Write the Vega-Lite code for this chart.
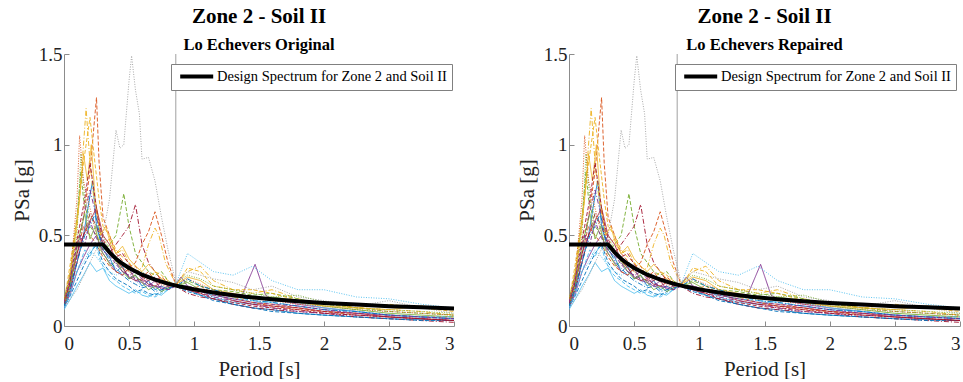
{
  "$schema": "https://vega.github.io/schema/vega-lite/v6.json",
  "padding": {"left": 11, "top": 5, "right": 0, "bottom": 0},
  "config": {
    "font": "Liberation Serif",
    "view": {"stroke": null},
    "style": {"guide-label": {"font": "Liberation Serif"}, "guide-title": {"font": "Liberation Serif"}},
    "axis": {"grid": false, "domainColor": "#8c8c8c", "tickColor": "#8c8c8c", "labelColor": "#222", "titleColor": "#222", "titleFontWeight": "normal", "labelFont": "Liberation Serif", "titleFont": "Liberation Serif", "labelFontSize": 19, "titleFontSize": 21, "tickSize": -5},
    "axisX": {"labelPadding": 13, "titlePadding": 5},
    "axisY": {"labelPadding": 7, "titlePadding": 6},
    "legend": {"labelFont": "Liberation Serif"},
    "title": {"font": "Liberation Serif", "fontSize": 21, "fontWeight": "bold", "color": "#000", "subtitleFont": "Liberation Serif", "subtitleFontSize": 16.5, "subtitleFontWeight": "bold", "subtitleColor": "#000", "subtitlePadding": 10, "anchor": "middle", "offset": -8}
  },
  "datasets": {
    "rec": [
      {"s":"A","T":0,"v":0.1},{"s":"A","T":0.05,"v":0.2},{"s":"A","T":0.1,"v":0.35},{"s":"A","T":0.15,"v":0.5},{"s":"A","T":0.2,"v":0.72},{"s":"A","T":0.22,"v":0.8},{"s":"A","T":0.25,"v":0.55},{"s":"A","T":0.3,"v":0.42},{"s":"A","T":0.35,"v":0.38},{"s":"A","T":0.4,"v":0.3},{"s":"A","T":0.45,"v":0.33},{"s":"A","T":0.5,"v":0.26},{"s":"A","T":0.55,"v":0.28},{"s":"A","T":0.6,"v":0.22},{"s":"A","T":0.65,"v":0.25},{"s":"A","T":0.7,"v":0.2},{"s":"A","T":0.75,"v":0.22},{"s":"A","T":0.8,"v":0.2},{"s":"A","T":0.86,"v":0.23},{"s":"A","T":0.95,"v":0.2},{"s":"A","T":1.05,"v":0.17},{"s":"A","T":1.15,"v":0.15},{"s":"A","T":1.3,"v":0.12},{"s":"A","T":1.45,"v":0.1},{"s":"A","T":1.6,"v":0.09},{"s":"A","T":1.8,"v":0.07},{"s":"A","T":2.0,"v":0.06},{"s":"A","T":2.25,"v":0.05},{"s":"A","T":2.5,"v":0.04},{"s":"A","T":2.75,"v":0.035},{"s":"A","T":3.0,"v":0.03},
      {"s":"B","T":0,"v":0.13},{"s":"B","T":0.05,"v":0.25},{"s":"B","T":0.1,"v":0.45},{"s":"B","T":0.15,"v":0.6},{"s":"B","T":0.2,"v":0.85},{"s":"B","T":0.23,"v":1.1},{"s":"B","T":0.25,"v":1.26},{"s":"B","T":0.27,"v":0.9},{"s":"B","T":0.3,"v":0.6},{"s":"B","T":0.35,"v":0.5},{"s":"B","T":0.4,"v":0.4},{"s":"B","T":0.45,"v":0.36},{"s":"B","T":0.5,"v":0.3},{"s":"B","T":0.55,"v":0.33},{"s":"B","T":0.6,"v":0.27},{"s":"B","T":0.65,"v":0.3},{"s":"B","T":0.7,"v":0.25},{"s":"B","T":0.75,"v":0.27},{"s":"B","T":0.8,"v":0.24},{"s":"B","T":0.86,"v":0.22},{"s":"B","T":0.95,"v":0.2},{"s":"B","T":1.05,"v":0.22},{"s":"B","T":1.15,"v":0.18},{"s":"B","T":1.3,"v":0.16},{"s":"B","T":1.45,"v":0.13},{"s":"B","T":1.6,"v":0.12},{"s":"B","T":1.8,"v":0.1},{"s":"B","T":2.0,"v":0.08},{"s":"B","T":2.25,"v":0.07},{"s":"B","T":2.5,"v":0.06},{"s":"B","T":2.75,"v":0.05},{"s":"B","T":3.0,"v":0.05},
      {"s":"C","T":0,"v":0.12},{"s":"C","T":0.05,"v":0.3},{"s":"C","T":0.1,"v":0.55},{"s":"C","T":0.13,"v":0.8},{"s":"C","T":0.17,"v":1.2},{"s":"C","T":0.2,"v":0.9},{"s":"C","T":0.23,"v":0.7},{"s":"C","T":0.27,"v":0.55},{"s":"C","T":0.3,"v":0.45},{"s":"C","T":0.35,"v":0.48},{"s":"C","T":0.4,"v":0.4},{"s":"C","T":0.45,"v":0.42},{"s":"C","T":0.5,"v":0.35},{"s":"C","T":0.55,"v":0.3},{"s":"C","T":0.6,"v":0.32},{"s":"C","T":0.65,"v":0.45},{"s":"C","T":0.7,"v":0.54},{"s":"C","T":0.73,"v":0.5},{"s":"C","T":0.78,"v":0.35},{"s":"C","T":0.86,"v":0.23},{"s":"C","T":0.95,"v":0.3},{"s":"C","T":1.05,"v":0.33},{"s":"C","T":1.15,"v":0.25},{"s":"C","T":1.3,"v":0.2},{"s":"C","T":1.45,"v":0.18},{"s":"C","T":1.6,"v":0.2},{"s":"C","T":1.8,"v":0.15},{"s":"C","T":2.0,"v":0.12},{"s":"C","T":2.25,"v":0.1},{"s":"C","T":2.5,"v":0.09},{"s":"C","T":2.75,"v":0.08},{"s":"C","T":3.0,"v":0.06},
      {"s":"D","T":0,"v":0.1},{"s":"D","T":0.05,"v":0.18},{"s":"D","T":0.1,"v":0.3},{"s":"D","T":0.15,"v":0.38},{"s":"D","T":0.2,"v":0.45},{"s":"D","T":0.25,"v":0.5},{"s":"D","T":0.3,"v":0.4},{"s":"D","T":0.35,"v":0.35},{"s":"D","T":0.4,"v":0.3},{"s":"D","T":0.45,"v":0.28},{"s":"D","T":0.5,"v":0.32},{"s":"D","T":0.55,"v":0.25},{"s":"D","T":0.6,"v":0.24},{"s":"D","T":0.65,"v":0.22},{"s":"D","T":0.7,"v":0.25},{"s":"D","T":0.75,"v":0.2},{"s":"D","T":0.8,"v":0.22},{"s":"D","T":0.86,"v":0.23},{"s":"D","T":0.9,"v":0.27},{"s":"D","T":0.95,"v":0.22},{"s":"D","T":1.05,"v":0.2},{"s":"D","T":1.15,"v":0.18},{"s":"D","T":1.3,"v":0.16},{"s":"D","T":1.37,"v":0.17},{"s":"D","T":1.47,"v":0.34},{"s":"D","T":1.55,"v":0.17},{"s":"D","T":1.6,"v":0.15},{"s":"D","T":1.8,"v":0.12},{"s":"D","T":2.0,"v":0.1},{"s":"D","T":2.25,"v":0.08},{"s":"D","T":2.5,"v":0.06},{"s":"D","T":2.75,"v":0.05},{"s":"D","T":3.0,"v":0.04},
      {"s":"E","T":0,"v":0.14},{"s":"E","T":0.05,"v":0.3},{"s":"E","T":0.1,"v":0.6},{"s":"E","T":0.13,"v":0.85},{"s":"E","T":0.15,"v":0.7},{"s":"E","T":0.2,"v":0.55},{"s":"E","T":0.25,"v":0.5},{"s":"E","T":0.3,"v":0.42},{"s":"E","T":0.35,"v":0.45},{"s":"E","T":0.4,"v":0.5},{"s":"E","T":0.46,"v":0.73},{"s":"E","T":0.5,"v":0.55},{"s":"E","T":0.55,"v":0.4},{"s":"E","T":0.6,"v":0.35},{"s":"E","T":0.65,"v":0.3},{"s":"E","T":0.7,"v":0.28},{"s":"E","T":0.75,"v":0.3},{"s":"E","T":0.8,"v":0.25},{"s":"E","T":0.86,"v":0.22},{"s":"E","T":0.95,"v":0.25},{"s":"E","T":1.05,"v":0.22},{"s":"E","T":1.15,"v":0.2},{"s":"E","T":1.3,"v":0.19},{"s":"E","T":1.45,"v":0.17},{"s":"E","T":1.6,"v":0.18},{"s":"E","T":1.8,"v":0.15},{"s":"E","T":2.0,"v":0.12},{"s":"E","T":2.25,"v":0.1},{"s":"E","T":2.5,"v":0.08},{"s":"E","T":2.75,"v":0.07},{"s":"E","T":3.0,"v":0.06},
      {"s":"F","T":0,"v":0.09},{"s":"F","T":0.05,"v":0.15},{"s":"F","T":0.1,"v":0.22},{"s":"F","T":0.15,"v":0.28},{"s":"F","T":0.2,"v":0.35},{"s":"F","T":0.25,"v":0.3},{"s":"F","T":0.3,"v":0.32},{"s":"F","T":0.35,"v":0.25},{"s":"F","T":0.4,"v":0.22},{"s":"F","T":0.45,"v":0.2},{"s":"F","T":0.5,"v":0.18},{"s":"F","T":0.55,"v":0.2},{"s":"F","T":0.6,"v":0.17},{"s":"F","T":0.65,"v":0.16},{"s":"F","T":0.7,"v":0.18},{"s":"F","T":0.75,"v":0.17},{"s":"F","T":0.8,"v":0.2},{"s":"F","T":0.86,"v":0.23},{"s":"F","T":0.95,"v":0.22},{"s":"F","T":1.05,"v":0.2},{"s":"F","T":1.15,"v":0.16},{"s":"F","T":1.3,"v":0.13},{"s":"F","T":1.45,"v":0.12},{"s":"F","T":1.6,"v":0.14},{"s":"F","T":1.8,"v":0.13},{"s":"F","T":2.0,"v":0.1},{"s":"F","T":2.25,"v":0.08},{"s":"F","T":2.5,"v":0.06},{"s":"F","T":2.75,"v":0.05},{"s":"F","T":3.0,"v":0.04},
      {"s":"G","T":0,"v":0.12},{"s":"G","T":0.05,"v":0.2},{"s":"G","T":0.1,"v":0.35},{"s":"G","T":0.15,"v":0.5},{"s":"G","T":0.2,"v":0.62},{"s":"G","T":0.25,"v":0.55},{"s":"G","T":0.3,"v":0.45},{"s":"G","T":0.35,"v":0.4},{"s":"G","T":0.4,"v":0.45},{"s":"G","T":0.45,"v":0.5},{"s":"G","T":0.5,"v":0.55},{"s":"G","T":0.55,"v":0.67},{"s":"G","T":0.6,"v":0.45},{"s":"G","T":0.65,"v":0.35},{"s":"G","T":0.7,"v":0.3},{"s":"G","T":0.75,"v":0.25},{"s":"G","T":0.8,"v":0.24},{"s":"G","T":0.86,"v":0.22},{"s":"G","T":0.95,"v":0.18},{"s":"G","T":1.05,"v":0.16},{"s":"G","T":1.15,"v":0.15},{"s":"G","T":1.3,"v":0.12},{"s":"G","T":1.45,"v":0.1},{"s":"G","T":1.6,"v":0.09},{"s":"G","T":1.8,"v":0.08},{"s":"G","T":2.0,"v":0.07},{"s":"G","T":2.25,"v":0.05},{"s":"G","T":2.5,"v":0.04},{"s":"G","T":2.75,"v":0.03},{"s":"G","T":3.0,"v":0.02},
      {"s":"H","T":0,"v":0.11},{"s":"H","T":0.05,"v":0.22},{"s":"H","T":0.1,"v":0.4},{"s":"H","T":0.15,"v":0.55},{"s":"H","T":0.2,"v":0.5},{"s":"H","T":0.25,"v":0.45},{"s":"H","T":0.3,"v":0.38},{"s":"H","T":0.35,"v":0.33},{"s":"H","T":0.4,"v":0.3},{"s":"H","T":0.45,"v":0.28},{"s":"H","T":0.5,"v":0.32},{"s":"H","T":0.55,"v":0.35},{"s":"H","T":0.6,"v":0.45},{"s":"H","T":0.65,"v":0.52},{"s":"H","T":0.7,"v":0.63},{"s":"H","T":0.75,"v":0.5},{"s":"H","T":0.8,"v":0.35},{"s":"H","T":0.86,"v":0.23},{"s":"H","T":0.95,"v":0.2},{"s":"H","T":1.05,"v":0.18},{"s":"H","T":1.15,"v":0.17},{"s":"H","T":1.3,"v":0.15},{"s":"H","T":1.45,"v":0.13},{"s":"H","T":1.6,"v":0.11},{"s":"H","T":1.8,"v":0.09},{"s":"H","T":2.0,"v":0.08},{"s":"H","T":2.25,"v":0.06},{"s":"H","T":2.5,"v":0.05},{"s":"H","T":2.75,"v":0.04},{"s":"H","T":3.0,"v":0.03},
      {"s":"I","T":0,"v":0.1},{"s":"I","T":0.1,"v":0.2},{"s":"I","T":0.2,"v":0.35},{"s":"I","T":0.3,"v":0.5},{"s":"I","T":0.35,"v":0.7},{"s":"I","T":0.4,"v":1.08},{"s":"I","T":0.43,"v":0.98},{"s":"I","T":0.46,"v":1.0},{"s":"I","T":0.5,"v":1.35},{"s":"I","T":0.52,"v":1.49},{"s":"I","T":0.55,"v":1.3},{"s":"I","T":0.58,"v":1.17},{"s":"I","T":0.6,"v":0.92},{"s":"I","T":0.65,"v":0.93},{"s":"I","T":0.7,"v":0.8},{"s":"I","T":0.75,"v":0.6},{"s":"I","T":0.8,"v":0.42},{"s":"I","T":0.86,"v":0.24},{"s":"I","T":0.95,"v":0.3},{"s":"I","T":1.05,"v":0.28},{"s":"I","T":1.15,"v":0.26},{"s":"I","T":1.3,"v":0.24},{"s":"I","T":1.45,"v":0.2},{"s":"I","T":1.6,"v":0.22},{"s":"I","T":1.8,"v":0.16},{"s":"I","T":2.0,"v":0.14},{"s":"I","T":2.25,"v":0.11},{"s":"I","T":2.5,"v":0.14},{"s":"I","T":2.75,"v":0.1},{"s":"I","T":3.0,"v":0.07},
      {"s":"J","T":0,"v":0.13},{"s":"J","T":0.05,"v":0.35},{"s":"J","T":0.1,"v":0.6},{"s":"J","T":0.15,"v":0.9},{"s":"J","T":0.2,"v":1.15},{"s":"J","T":0.23,"v":0.95},{"s":"J","T":0.27,"v":0.7},{"s":"J","T":0.3,"v":0.55},{"s":"J","T":0.35,"v":0.5},{"s":"J","T":0.4,"v":0.42},{"s":"J","T":0.45,"v":0.38},{"s":"J","T":0.5,"v":0.35},{"s":"J","T":0.55,"v":0.3},{"s":"J","T":0.6,"v":0.28},{"s":"J","T":0.65,"v":0.26},{"s":"J","T":0.7,"v":0.3},{"s":"J","T":0.75,"v":0.28},{"s":"J","T":0.8,"v":0.25},{"s":"J","T":0.86,"v":0.22},{"s":"J","T":0.95,"v":0.32},{"s":"J","T":1.05,"v":0.3},{"s":"J","T":1.15,"v":0.22},{"s":"J","T":1.3,"v":0.2},{"s":"J","T":1.45,"v":0.2},{"s":"J","T":1.6,"v":0.18},{"s":"J","T":1.8,"v":0.14},{"s":"J","T":2.0,"v":0.13},{"s":"J","T":2.25,"v":0.1},{"s":"J","T":2.5,"v":0.12},{"s":"J","T":2.75,"v":0.1},{"s":"J","T":3.0,"v":0.08},
      {"s":"K","T":0,"v":0.1},{"s":"K","T":0.05,"v":0.17},{"s":"K","T":0.1,"v":0.25},{"s":"K","T":0.15,"v":0.33},{"s":"K","T":0.2,"v":0.4},{"s":"K","T":0.25,"v":0.45},{"s":"K","T":0.3,"v":0.35},{"s":"K","T":0.35,"v":0.3},{"s":"K","T":0.4,"v":0.26},{"s":"K","T":0.45,"v":0.24},{"s":"K","T":0.5,"v":0.22},{"s":"K","T":0.55,"v":0.19},{"s":"K","T":0.6,"v":0.2},{"s":"K","T":0.65,"v":0.18},{"s":"K","T":0.7,"v":0.17},{"s":"K","T":0.75,"v":0.19},{"s":"K","T":0.8,"v":0.21},{"s":"K","T":0.86,"v":0.22},{"s":"K","T":0.95,"v":0.19},{"s":"K","T":1.05,"v":0.17},{"s":"K","T":1.15,"v":0.14},{"s":"K","T":1.3,"v":0.12},{"s":"K","T":1.45,"v":0.1},{"s":"K","T":1.6,"v":0.08},{"s":"K","T":1.8,"v":0.07},{"s":"K","T":2.0,"v":0.06},{"s":"K","T":2.25,"v":0.05},{"s":"K","T":2.5,"v":0.04},{"s":"K","T":2.75,"v":0.03},{"s":"K","T":3.0,"v":0.03},
      {"s":"L","T":0,"v":0.15},{"s":"L","T":0.05,"v":0.28},{"s":"L","T":0.1,"v":0.5},{"s":"L","T":0.13,"v":0.95},{"s":"L","T":0.16,"v":0.7},{"s":"L","T":0.2,"v":0.6},{"s":"L","T":0.25,"v":0.55},{"s":"L","T":0.3,"v":0.5},{"s":"L","T":0.35,"v":0.42},{"s":"L","T":0.4,"v":0.38},{"s":"L","T":0.45,"v":0.35},{"s":"L","T":0.5,"v":0.3},{"s":"L","T":0.55,"v":0.28},{"s":"L","T":0.6,"v":0.3},{"s":"L","T":0.65,"v":0.27},{"s":"L","T":0.7,"v":0.25},{"s":"L","T":0.75,"v":0.24},{"s":"L","T":0.8,"v":0.22},{"s":"L","T":0.86,"v":0.24},{"s":"L","T":0.95,"v":0.28},{"s":"L","T":1.05,"v":0.26},{"s":"L","T":1.15,"v":0.22},{"s":"L","T":1.3,"v":0.2},{"s":"L","T":1.45,"v":0.18},{"s":"L","T":1.6,"v":0.16},{"s":"L","T":1.8,"v":0.17},{"s":"L","T":2.0,"v":0.13},{"s":"L","T":2.25,"v":0.1},{"s":"L","T":2.5,"v":0.09},{"s":"L","T":2.75,"v":0.08},{"s":"L","T":3.0,"v":0.07},
      {"s":"M","T":0,"v":0.12},{"s":"M","T":0.05,"v":0.2},{"s":"M","T":0.1,"v":0.3},{"s":"M","T":0.15,"v":0.35},{"s":"M","T":0.2,"v":0.42},{"s":"M","T":0.25,"v":0.38},{"s":"M","T":0.3,"v":0.33},{"s":"M","T":0.35,"v":0.3},{"s":"M","T":0.4,"v":0.28},{"s":"M","T":0.45,"v":0.3},{"s":"M","T":0.5,"v":0.27},{"s":"M","T":0.55,"v":0.25},{"s":"M","T":0.6,"v":0.22},{"s":"M","T":0.65,"v":0.24},{"s":"M","T":0.7,"v":0.2},{"s":"M","T":0.75,"v":0.2},{"s":"M","T":0.8,"v":0.22},{"s":"M","T":0.86,"v":0.23},{"s":"M","T":0.95,"v":0.4},{"s":"M","T":1.05,"v":0.35},{"s":"M","T":1.15,"v":0.3},{"s":"M","T":1.3,"v":0.28},{"s":"M","T":1.45,"v":0.33},{"s":"M","T":1.6,"v":0.25},{"s":"M","T":1.8,"v":0.2},{"s":"M","T":2.0,"v":0.2},{"s":"M","T":2.25,"v":0.16},{"s":"M","T":2.5,"v":0.15},{"s":"M","T":2.75,"v":0.12},{"s":"M","T":3.0,"v":0.1},
      {"s":"N","T":0,"v":0.1},{"s":"N","T":0.05,"v":0.2},{"s":"N","T":0.1,"v":0.38},{"s":"N","T":0.15,"v":0.6},{"s":"N","T":0.2,"v":0.75},{"s":"N","T":0.25,"v":0.6},{"s":"N","T":0.3,"v":0.45},{"s":"N","T":0.35,"v":0.42},{"s":"N","T":0.4,"v":0.35},{"s":"N","T":0.45,"v":0.3},{"s":"N","T":0.5,"v":0.28},{"s":"N","T":0.55,"v":0.26},{"s":"N","T":0.6,"v":0.25},{"s":"N","T":0.65,"v":0.22},{"s":"N","T":0.7,"v":0.21},{"s":"N","T":0.75,"v":0.22},{"s":"N","T":0.8,"v":0.2},{"s":"N","T":0.86,"v":0.22},{"s":"N","T":0.95,"v":0.2},{"s":"N","T":1.05,"v":0.18},{"s":"N","T":1.15,"v":0.16},{"s":"N","T":1.3,"v":0.14},{"s":"N","T":1.45,"v":0.12},{"s":"N","T":1.6,"v":0.1},{"s":"N","T":1.8,"v":0.08},{"s":"N","T":2.0,"v":0.07},{"s":"N","T":2.25,"v":0.06},{"s":"N","T":2.5,"v":0.05},{"s":"N","T":2.75,"v":0.04},{"s":"N","T":3.0,"v":0.03},
      {"s":"O","T":0,"v":0.13},{"s":"O","T":0.05,"v":0.25},{"s":"O","T":0.1,"v":0.4},{"s":"O","T":0.15,"v":0.5},{"s":"O","T":0.2,"v":0.58},{"s":"O","T":0.25,"v":0.65},{"s":"O","T":0.3,"v":0.5},{"s":"O","T":0.35,"v":0.45},{"s":"O","T":0.4,"v":0.36},{"s":"O","T":0.45,"v":0.32},{"s":"O","T":0.5,"v":0.27},{"s":"O","T":0.55,"v":0.25},{"s":"O","T":0.6,"v":0.26},{"s":"O","T":0.65,"v":0.23},{"s":"O","T":0.7,"v":0.22},{"s":"O","T":0.75,"v":0.24},{"s":"O","T":0.8,"v":0.23},{"s":"O","T":0.86,"v":0.22},{"s":"O","T":0.95,"v":0.22},{"s":"O","T":1.05,"v":0.2},{"s":"O","T":1.15,"v":0.18},{"s":"O","T":1.3,"v":0.14},{"s":"O","T":1.45,"v":0.12},{"s":"O","T":1.6,"v":0.11},{"s":"O","T":1.8,"v":0.1},{"s":"O","T":2.0,"v":0.08},{"s":"O","T":2.25,"v":0.07},{"s":"O","T":2.5,"v":0.05},{"s":"O","T":2.75,"v":0.04},{"s":"O","T":3.0,"v":0.03},
      {"s":"P","T":0,"v":0.14},{"s":"P","T":0.05,"v":0.3},{"s":"P","T":0.1,"v":0.7},{"s":"P","T":0.12,"v":1.05},{"s":"P","T":0.15,"v":0.8},{"s":"P","T":0.2,"v":0.65},{"s":"P","T":0.25,"v":0.5},{"s":"P","T":0.3,"v":0.45},{"s":"P","T":0.35,"v":0.4},{"s":"P","T":0.4,"v":0.36},{"s":"P","T":0.45,"v":0.32},{"s":"P","T":0.5,"v":0.3},{"s":"P","T":0.55,"v":0.27},{"s":"P","T":0.6,"v":0.25},{"s":"P","T":0.65,"v":0.28},{"s":"P","T":0.7,"v":0.24},{"s":"P","T":0.75,"v":0.23},{"s":"P","T":0.8,"v":0.21},{"s":"P","T":0.86,"v":0.23},{"s":"P","T":0.95,"v":0.26},{"s":"P","T":1.05,"v":0.23},{"s":"P","T":1.15,"v":0.2},{"s":"P","T":1.3,"v":0.17},{"s":"P","T":1.45,"v":0.15},{"s":"P","T":1.6,"v":0.14},{"s":"P","T":1.8,"v":0.12},{"s":"P","T":2.0,"v":0.11},{"s":"P","T":2.25,"v":0.09},{"s":"P","T":2.5,"v":0.08},{"s":"P","T":2.75,"v":0.07},{"s":"P","T":3.0,"v":0.06},
      {"s":"Q","T":0,"v":0.11},{"s":"Q","T":0.04,"v":0.2},{"s":"Q","T":0.08,"v":0.35},{"s":"Q","T":0.12,"v":0.5},{"s":"Q","T":0.16,"v":0.62},{"s":"Q","T":0.2,"v":0.48},{"s":"Q","T":0.24,"v":0.55},{"s":"Q","T":0.28,"v":0.42},{"s":"Q","T":0.32,"v":0.38},{"s":"Q","T":0.36,"v":0.33},{"s":"Q","T":0.4,"v":0.36},{"s":"Q","T":0.45,"v":0.3},{"s":"Q","T":0.5,"v":0.26},{"s":"Q","T":0.55,"v":0.28},{"s":"Q","T":0.6,"v":0.24},{"s":"Q","T":0.65,"v":0.2},{"s":"Q","T":0.7,"v":0.22},{"s":"Q","T":0.75,"v":0.19},{"s":"Q","T":0.8,"v":0.21},{"s":"Q","T":0.86,"v":0.22},{"s":"Q","T":0.95,"v":0.24},{"s":"Q","T":1.05,"v":0.2},{"s":"Q","T":1.15,"v":0.19},{"s":"Q","T":1.3,"v":0.16},{"s":"Q","T":1.45,"v":0.15},{"s":"Q","T":1.6,"v":0.16},{"s":"Q","T":1.8,"v":0.14},{"s":"Q","T":2.0,"v":0.11},{"s":"Q","T":2.25,"v":0.09},{"s":"Q","T":2.5,"v":0.07},{"s":"Q","T":2.75,"v":0.06},{"s":"Q","T":3.0,"v":0.05},
      {"s":"R","T":0,"v":0.12},{"s":"R","T":0.04,"v":0.25},{"s":"R","T":0.08,"v":0.45},{"s":"R","T":0.12,"v":0.7},{"s":"R","T":0.15,"v":0.95},{"s":"R","T":0.18,"v":0.8},{"s":"R","T":0.21,"v":1.0},{"s":"R","T":0.24,"v":0.7},{"s":"R","T":0.28,"v":0.5},{"s":"R","T":0.32,"v":0.55},{"s":"R","T":0.36,"v":0.45},{"s":"R","T":0.4,"v":0.4},{"s":"R","T":0.45,"v":0.44},{"s":"R","T":0.5,"v":0.37},{"s":"R","T":0.55,"v":0.33},{"s":"R","T":0.6,"v":0.3},{"s":"R","T":0.65,"v":0.34},{"s":"R","T":0.7,"v":0.3},{"s":"R","T":0.75,"v":0.26},{"s":"R","T":0.8,"v":0.24},{"s":"R","T":0.86,"v":0.23},{"s":"R","T":0.95,"v":0.27},{"s":"R","T":1.05,"v":0.25},{"s":"R","T":1.15,"v":0.2},{"s":"R","T":1.3,"v":0.18},{"s":"R","T":1.45,"v":0.16},{"s":"R","T":1.6,"v":0.15},{"s":"R","T":1.8,"v":0.13},{"s":"R","T":2.0,"v":0.11},{"s":"R","T":2.25,"v":0.1},{"s":"R","T":2.5,"v":0.09},{"s":"R","T":2.75,"v":0.11},{"s":"R","T":3.0,"v":0.09},
      {"s":"S","T":0,"v":0.1},{"s":"S","T":0.04,"v":0.16},{"s":"S","T":0.08,"v":0.26},{"s":"S","T":0.12,"v":0.34},{"s":"S","T":0.16,"v":0.42},{"s":"S","T":0.2,"v":0.38},{"s":"S","T":0.24,"v":0.46},{"s":"S","T":0.28,"v":0.36},{"s":"S","T":0.32,"v":0.3},{"s":"S","T":0.36,"v":0.27},{"s":"S","T":0.4,"v":0.25},{"s":"S","T":0.45,"v":0.22},{"s":"S","T":0.5,"v":0.2},{"s":"S","T":0.55,"v":0.18},{"s":"S","T":0.6,"v":0.19},{"s":"S","T":0.65,"v":0.17},{"s":"S","T":0.7,"v":0.16},{"s":"S","T":0.75,"v":0.18},{"s":"S","T":0.8,"v":0.2},{"s":"S","T":0.86,"v":0.23},{"s":"S","T":0.95,"v":0.21},{"s":"S","T":1.05,"v":0.19},{"s":"S","T":1.15,"v":0.17},{"s":"S","T":1.3,"v":0.15},{"s":"S","T":1.45,"v":0.14},{"s":"S","T":1.6,"v":0.13},{"s":"S","T":1.8,"v":0.11},{"s":"S","T":2.0,"v":0.09},{"s":"S","T":2.25,"v":0.08},{"s":"S","T":2.5,"v":0.06},{"s":"S","T":2.75,"v":0.05},{"s":"S","T":3.0,"v":0.05},
      {"s":"U","T":0,"v":0.12},{"s":"U","T":0.04,"v":0.22},{"s":"U","T":0.08,"v":0.4},{"s":"U","T":0.12,"v":0.55},{"s":"U","T":0.16,"v":0.7},{"s":"U","T":0.2,"v":0.9},{"s":"U","T":0.23,"v":0.75},{"s":"U","T":0.26,"v":0.6},{"s":"U","T":0.3,"v":0.48},{"s":"U","T":0.35,"v":0.4},{"s":"U","T":0.4,"v":0.38},{"s":"U","T":0.45,"v":0.4},{"s":"U","T":0.5,"v":0.34},{"s":"U","T":0.55,"v":0.3},{"s":"U","T":0.6,"v":0.27},{"s":"U","T":0.65,"v":0.25},{"s":"U","T":0.7,"v":0.27},{"s":"U","T":0.75,"v":0.24},{"s":"U","T":0.8,"v":0.22},{"s":"U","T":0.86,"v":0.22},{"s":"U","T":0.95,"v":0.2},{"s":"U","T":1.05,"v":0.18},{"s":"U","T":1.15,"v":0.15},{"s":"U","T":1.3,"v":0.13},{"s":"U","T":1.45,"v":0.11},{"s":"U","T":1.6,"v":0.1},{"s":"U","T":1.8,"v":0.09},{"s":"U","T":2.0,"v":0.07},{"s":"U","T":2.25,"v":0.06},{"s":"U","T":2.5,"v":0.05},{"s":"U","T":2.75,"v":0.04},{"s":"U","T":3.0,"v":0.03},
      {"s":"V","T":0,"v":0.11},{"s":"V","T":0.04,"v":0.2},{"s":"V","T":0.08,"v":0.3},{"s":"V","T":0.12,"v":0.4},{"s":"V","T":0.16,"v":0.5},{"s":"V","T":0.2,"v":0.55},{"s":"V","T":0.24,"v":0.62},{"s":"V","T":0.28,"v":0.48},{"s":"V","T":0.32,"v":0.4},{"s":"V","T":0.36,"v":0.35},{"s":"V","T":0.4,"v":0.32},{"s":"V","T":0.45,"v":0.28},{"s":"V","T":0.5,"v":0.25},{"s":"V","T":0.55,"v":0.23},{"s":"V","T":0.6,"v":0.21},{"s":"V","T":0.65,"v":0.22},{"s":"V","T":0.7,"v":0.19},{"s":"V","T":0.75,"v":0.2},{"s":"V","T":0.8,"v":0.21},{"s":"V","T":0.86,"v":0.22},{"s":"V","T":0.95,"v":0.26},{"s":"V","T":1.05,"v":0.22},{"s":"V","T":1.15,"v":0.2},{"s":"V","T":1.3,"v":0.17},{"s":"V","T":1.45,"v":0.14},{"s":"V","T":1.6,"v":0.13},{"s":"V","T":1.8,"v":0.11},{"s":"V","T":2.0,"v":0.09},{"s":"V","T":2.25,"v":0.08},{"s":"V","T":2.5,"v":0.06},{"s":"V","T":2.75,"v":0.05},{"s":"V","T":3.0,"v":0.04},
      {"s":"W","T":0,"v":0.13},{"s":"W","T":0.04,"v":0.24},{"s":"W","T":0.08,"v":0.38},{"s":"W","T":0.12,"v":0.5},{"s":"W","T":0.16,"v":0.45},{"s":"W","T":0.2,"v":0.58},{"s":"W","T":0.24,"v":0.5},{"s":"W","T":0.28,"v":0.44},{"s":"W","T":0.32,"v":0.4},{"s":"W","T":0.36,"v":0.38},{"s":"W","T":0.4,"v":0.34},{"s":"W","T":0.45,"v":0.3},{"s":"W","T":0.5,"v":0.28},{"s":"W","T":0.55,"v":0.3},{"s":"W","T":0.6,"v":0.26},{"s":"W","T":0.65,"v":0.24},{"s":"W","T":0.7,"v":0.22},{"s":"W","T":0.75,"v":0.21},{"s":"W","T":0.8,"v":0.2},{"s":"W","T":0.86,"v":0.22},{"s":"W","T":0.95,"v":0.2},{"s":"W","T":1.05,"v":0.19},{"s":"W","T":1.15,"v":0.17},{"s":"W","T":1.3,"v":0.15},{"s":"W","T":1.45,"v":0.13},{"s":"W","T":1.6,"v":0.12},{"s":"W","T":1.8,"v":0.11},{"s":"W","T":2.0,"v":0.09},{"s":"W","T":2.25,"v":0.07},{"s":"W","T":2.5,"v":0.06},{"s":"W","T":2.75,"v":0.05},{"s":"W","T":3.0,"v":0.04}
    ],
    "des": [
      {"T":0,"v":0.45},{"T":0.3,"v":0.45},{"T":0.35,"v":0.406},{"T":0.4,"v":0.371},{"T":0.45,"v":0.343},{"T":0.5,"v":0.32},{"T":0.6,"v":0.283},{"T":0.7,"v":0.256},{"T":0.8,"v":0.234},{"T":0.9,"v":0.216},{"T":1.0,"v":0.202},{"T":1.2,"v":0.179},{"T":1.4,"v":0.161},{"T":1.6,"v":0.147},{"T":1.8,"v":0.136},{"T":2.0,"v":0.127},{"T":2.25,"v":0.118},{"T":2.5,"v":0.109},{"T":2.75,"v":0.103},{"T":3.0,"v":0.097}
    ]
  },
  "spacing": 54,
  "resolve": {"scale": {"stroke": "independent", "color": "independent", "strokeDash": "independent"}, "legend": {"stroke": "independent", "color": "independent", "strokeDash": "independent"}},
  "hconcat": [
    {
      "width": 390, "height": 272,
      "title": {"text": "Zone 2 - Soil II", "subtitle": "Lo Echevers Original"},
      "layer": [
        {
          "data": {"name": "rec"},
          "mark": {"type": "line", "strokeWidth": 1, "opacity": 0.9, "clip": true},
          "encoding": {
            "x": {"field": "T", "type": "quantitative", "scale": {"domain": [0, 3], "nice": false}, "axis": {"title": "Period [s]", "values": [0, 0.5, 1, 1.5, 2, 2.5, 3], "format": "~g", "labelFont": "Liberation Serif", "titleFont": "Liberation Serif"}},
            "y": {"field": "v", "type": "quantitative", "scale": {"domain": [0, 1.5], "nice": false}, "axis": {"title": "PSa [g]", "values": [0, 0.5, 1, 1.5], "format": "~g", "labelFont": "Liberation Serif", "titleFont": "Liberation Serif"}},
            "color": {"field": "s", "type": "nominal", "legend": null, "scale": {"domain": ["A","B","C","D","E","F","G","H","I","J","K","L","M","N","O","P","Q","R","S","U","V","W"], "range": ["#0072BD","#D95319","#EDB120","#7E2F8E","#77AC30","#4DBEEE","#A2142F","#D95319","#a0a0a0","#EDB120","#0072BD","#77AC30","#4DBEEE","#7E2F8E","#A2142F","#D95319","#77AC30","#EDB120","#4DBEEE","#A2142F","#0072BD","#7E2F8E"]}},
            "strokeDash": {"field": "s", "type": "nominal", "legend": null, "scale": {"domain": ["A","B","C","D","E","F","G","H","I","J","K","L","M","N","O","P","Q","R","S","U","V","W"], "range": [[1,0],[4,2],[5,2,1,2],[1,0],[4,2],[1,0],[5,2,1,2],[4,2],[1,1.5],[4,2],[4,2],[1,1.5],[1,1.5],[5,2,1,2],[1,0],[1,1.5],[1,0],[1,0],[4,2],[4,2],[5,2,1,2],[4,2]]}}
          }
        },
        {
          "data": {"values": [{"T": 0.86}]},
          "mark": {"type": "rule", "color": "#a0a0a0", "strokeWidth": 1},
          "encoding": {"x": {"field": "T", "type": "quantitative"}}
        },
        {
          "data": {"name": "des"},
          "mark": {"type": "line", "strokeWidth": 4},
          "encoding": {
            "x": {"field": "T", "type": "quantitative"},
            "y": {"field": "v", "type": "quantitative"},
            "stroke": {"datum": "Design Spectrum for Zone 2 and Soil II", "scale": {"range": ["#000000"]}, "legend": {"title": null, "orient": "none", "legendX": 107, "legendY": 10, "strokeColor": "#808080", "fillColor": "#ffffff", "padding": 5, "symbolType": "M-0.6,0H5.4", "symbolSize": 121, "symbolStrokeWidth": 4, "labelFontSize": 14.5, "labelFont": "Liberation Serif", "labelColor": "#000", "labelOffset": 26, "labelLimit": 400}}
          }
        }
      ]
    },
    {
      "width": 391, "height": 272,
      "title": {"text": "Zone 2 - Soil II", "subtitle": "Lo Echevers Repaired"},
      "layer": [
        {
          "data": {"name": "rec"},
          "mark": {"type": "line", "strokeWidth": 1, "opacity": 0.9, "clip": true},
          "encoding": {
            "x": {"field": "T", "type": "quantitative", "scale": {"domain": [0, 3], "nice": false}, "axis": {"title": "Period [s]", "values": [0, 0.5, 1, 1.5, 2, 2.5, 3], "format": "~g", "labelFont": "Liberation Serif", "titleFont": "Liberation Serif"}},
            "y": {"field": "v", "type": "quantitative", "scale": {"domain": [0, 1.5], "nice": false}, "axis": {"title": "PSa [g]", "values": [0, 0.5, 1, 1.5], "format": "~g", "labelFont": "Liberation Serif", "titleFont": "Liberation Serif"}},
            "color": {"field": "s", "type": "nominal", "legend": null, "scale": {"domain": ["A","B","C","D","E","F","G","H","I","J","K","L","M","N","O","P","Q","R","S","U","V","W"], "range": ["#0072BD","#D95319","#EDB120","#7E2F8E","#77AC30","#4DBEEE","#A2142F","#D95319","#a0a0a0","#EDB120","#0072BD","#77AC30","#4DBEEE","#7E2F8E","#A2142F","#D95319","#77AC30","#EDB120","#4DBEEE","#A2142F","#0072BD","#7E2F8E"]}},
            "strokeDash": {"field": "s", "type": "nominal", "legend": null, "scale": {"domain": ["A","B","C","D","E","F","G","H","I","J","K","L","M","N","O","P","Q","R","S","U","V","W"], "range": [[1,0],[4,2],[5,2,1,2],[1,0],[4,2],[1,0],[5,2,1,2],[4,2],[1,1.5],[4,2],[4,2],[1,1.5],[1,1.5],[5,2,1,2],[1,0],[1,1.5],[1,0],[1,0],[4,2],[4,2],[5,2,1,2],[4,2]]}}
          }
        },
        {
          "data": {"values": [{"T": 0.83}]},
          "mark": {"type": "rule", "color": "#a0a0a0", "strokeWidth": 1},
          "encoding": {"x": {"field": "T", "type": "quantitative"}}
        },
        {
          "data": {"name": "des"},
          "mark": {"type": "line", "strokeWidth": 4},
          "encoding": {
            "x": {"field": "T", "type": "quantitative"},
            "y": {"field": "v", "type": "quantitative"},
            "stroke": {"datum": "Design Spectrum for Zone 2 and Soil II", "scale": {"range": ["#000000"]}, "legend": {"title": null, "orient": "none", "legendX": 106, "legendY": 10, "strokeColor": "#808080", "fillColor": "#ffffff", "padding": 5, "symbolType": "M-0.6,0H5.4", "symbolSize": 121, "symbolStrokeWidth": 4, "labelFontSize": 14.5, "labelFont": "Liberation Serif", "labelColor": "#000", "labelOffset": 26, "labelLimit": 400}}
          }
        }
      ]
    }
  ]
}
